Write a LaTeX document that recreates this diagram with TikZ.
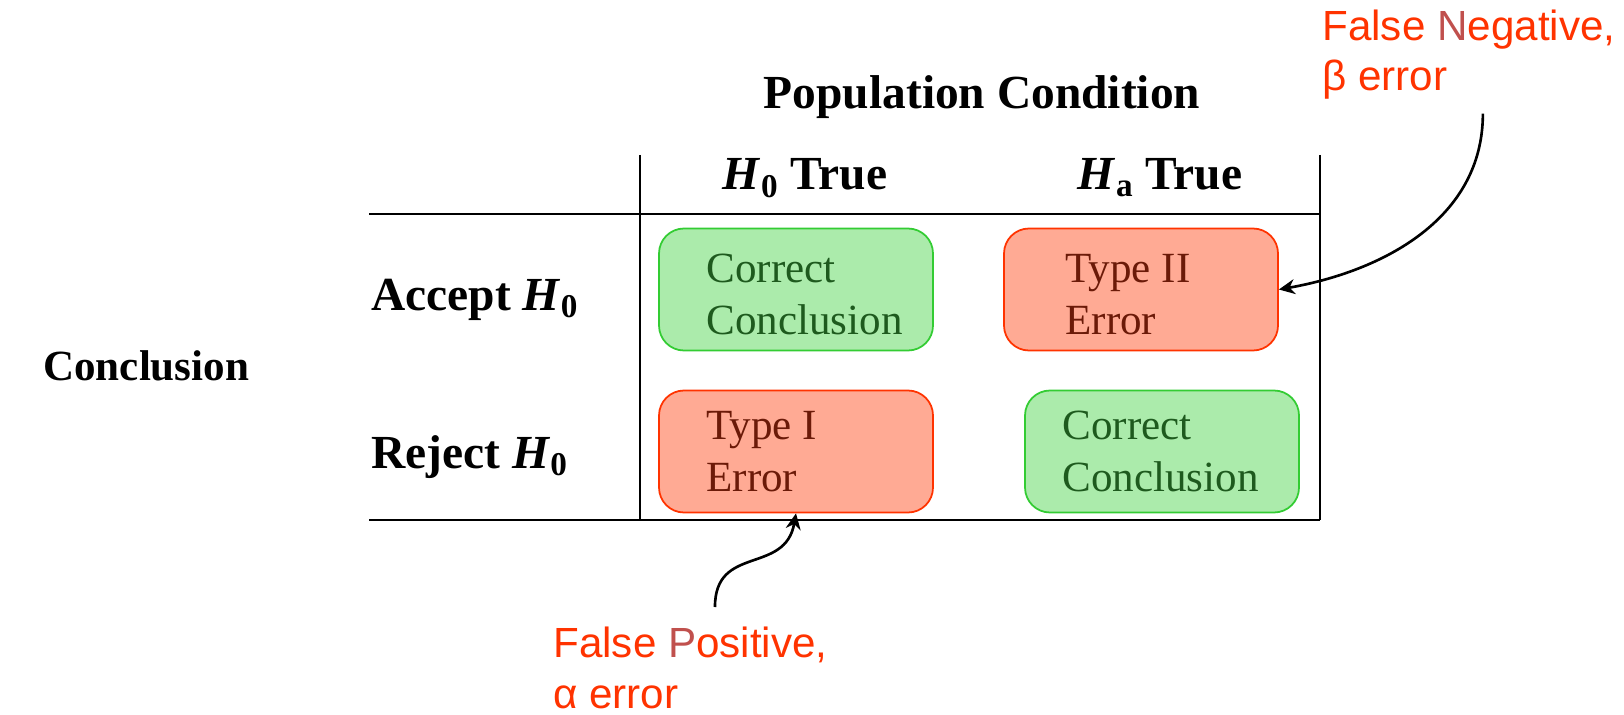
\documentclass[tikz,border=0pt]{standalone}
\usepackage{fontspec}
\setmainfont{Liberation Serif}
\newfontfamily\annofont{Liberation Sans}
\usepackage{xcolor}
\definecolor{okFill}{HTML}{ABEBAB}
\definecolor{okBorder}{HTML}{33CC33}
\definecolor{okText}{HTML}{1E5A1E}
\definecolor{errFill}{HTML}{FFAA94}
\definecolor{errBorder}{HTML}{FF3300}
\definecolor{errText}{HTML}{6B1A08}
\definecolor{annoRed}{HTML}{FF3300}
\definecolor{annoDark}{HTML}{C0504D}
\usetikzlibrary{arrows.meta,positioning}
\tikzset{
    cell/.style={
        rectangle,
        rounded corners=0.5cm,
        line width=1pt,
        minimum width=5.48cm,
        minimum height=2.44cm
    },
    okcell/.style={cell, draw=okBorder, fill=okFill},
    errcell/.style={cell, draw=errBorder, fill=errFill},
    celltext/.style={
        align=left,
        inner sep=0pt,
        font=\fontsize{24.5}{30}\selectfont
    },
    header/.style={
        inner sep=0pt,
        font=\fontsize{27}{32}\selectfont\bfseries
    },
    anno/.style={
        anchor=north west,
        align=left,
        inner sep=0pt,
        text=annoRed,
        font=\annofont\fontsize{24}{28.5}\selectfont
    },
    rule/.style={line width=1.5pt},
    callout/.style={
        -{Stealth[length=0.32cm,width=0.3cm]},
        line width=1.5pt
    }
}
\begin{document}
\begin{tikzpicture}
    \useasboundingbox (0,0) rectangle (32.48,14.28);

    % Headings
    \node[header, anchor=base] (popcond) at (19.64,12.1) {Population Condition};
    \node[header, anchor=base] (h0col) at (16.1,10.48) {\textit{H}\textsubscript{0} True};
    \node[header, anchor=base] (hacol) at (23.2,10.48) {\textit{H}\textsubscript{a} True};
    \node[header, anchor=base west] (accrow) at (7.42,8.08) {Accept \textit{H}\textsubscript{0}};
    \node[header, anchor=base west] (rejrow) at (7.42,4.92) {Reject \textit{H}\textsubscript{0}};
    \node[header, anchor=base west, font=\fontsize{24.5}{30}\selectfont\bfseries] (concl) at (0.86,6.68) {Conclusion};

    % Table rules
    \draw[rule] (7.38,10.0) -- (26.4,10.0);
    \draw[rule] (7.38,3.88) -- (26.4,3.88);
    \draw[rule] (12.8,11.18) -- (12.8,3.88);
    \draw[rule] (26.4,11.18) -- (26.4,3.88);

    % Outcome cells
    \node[okcell] (okacc) at (15.92,8.49) {};
    \node[errcell] (typetwo) at (22.82,8.49) {};
    \node[errcell] (typeone) at (15.92,5.25) {};
    \node[okcell] (okrej) at (23.24,5.25) {};

    \node[celltext, text=okText, right=0.96cm of okacc.west, yshift=-0.1cm] (okacctxt) {Correct\\Conclusion};
    \node[celltext, text=errText, right=1.24cm of typetwo.west, yshift=-0.1cm] (typetwotxt) {Type II\\Error};
    \node[celltext, text=errText, right=0.96cm of typeone.west] (typeonetxt) {Type I\\Error};
    \node[celltext, text=okText, right=0.76cm of okrej.west] (okrejtxt) {Correct\\Conclusion};

    % Annotations
    \node[anno] (falseneg) at (26.44,14.08) {False \textcolor{annoDark}{N}egative,\\β error};
    \node[anno] (falsepos) at (11.06,1.74) {False \textcolor{annoDark}{P}ositive,\\α error};

    \draw[callout] ([xshift=0.28cm,yshift=-0.27cm]falseneg.south) to[out=-90,in=10] (typetwo.east);
    \draw[callout] ([xshift=0.49cm,yshift=0.4cm]falsepos.north) to[out=90,in=-100,looseness=1.3] (typeone.south);
\end{tikzpicture}
\end{document}
